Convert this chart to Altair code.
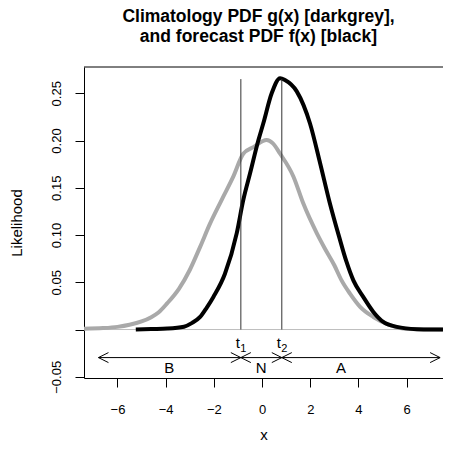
import altair as alt
import pandas as pd

# ---- data ----
gray_x = [-7.39, -6.6, -6.0, -5.5, -5.0, -4.6, -4.3, -3.94, -3.45, -3.0, -2.57, -2.16, -1.68,
          -1.19, -0.78, -0.36, 0.19, 0.45, 0.75, 1.30, 1.71, 2.27, 2.6, 3.0, 3.3, 3.65, 4.07,
          4.62, 5.31, 5.85, 6.5, 7.5]
gray_y = [0.0008, 0.0015, 0.0028, 0.0050, 0.0085, 0.013, 0.018, 0.0276, 0.043, 0.063, 0.0875,
          0.112, 0.137, 0.162, 0.186, 0.193, 0.2005, 0.197, 0.186, 0.162, 0.1335, 0.102, 0.086,
          0.068, 0.052, 0.038, 0.024, 0.0133, 0.0046, 0.001, 0.0002, 0.0]

black_x = [-5.24, -4.6, -3.93, -3.24, -2.9, -2.57, -2.3, -2.02, -1.54, -1.05, -0.78, -0.5,
           -0.15, 0.05, 0.40, 0.75, 0.95, 1.44, 1.99, 2.41, 2.8, 3.2, 3.5, 3.79, 4.20, 4.62,
           5.03, 5.59, 6.42, 7.0, 7.6]
black_y = [0.0, 0.0005, 0.001, 0.003, 0.007, 0.0133, 0.023, 0.0345, 0.059, 0.102, 0.137, 0.165,
           0.2005, 0.218, 0.25, 0.266, 0.264, 0.252, 0.218, 0.176, 0.135, 0.098, 0.072, 0.052,
           0.0345, 0.0186, 0.008, 0.0028, 0.0003, 0.0, 0.0]

thresholds = [-0.88, 0.82]
threshold_sub = ["1", "2"]
threshold_top = 0.265
arrow_left = -6.79
arrow_right = 7.39
arrow_y = -0.0297
region_labels = ["B", "N", "A"]
region_x = [-3.85, -0.04, 3.28]
region_y = -0.0463
tlabel_y = -0.0198

x_ticks = [-6, -4, -2, 0, 2, 4, 6]
y_ticks = [-0.05, 0.0, 0.05, 0.10, 0.15, 0.20, 0.25]

X_DOMAIN = [-7.39, 7.51]
Y_DOMAIN = [-0.0513, 0.2778]
FONT = "Liberation Sans"

xs = alt.Scale(domain=X_DOMAIN, nice=False, zero=False)
ys = alt.Scale(domain=Y_DOMAIN, nice=False, zero=False)

X = alt.X("x:Q", scale=xs, axis=alt.Axis(values=x_ticks, title="x", format="d",
                                          labelPadding=16, titlePadding=11))
Y = alt.Y("y:Q", scale=ys, axis=alt.Axis(values=y_ticks, title="Likelihood", labelAngle=270,
                                          labelExpr="datum.value == 0 ? '' : format(datum.value, '.2f')",
                                          labelPadding=12, titlePadding=26))

gray_df = pd.DataFrame({"x": gray_x, "y": gray_y})
black_df = pd.DataFrame({"x": black_x, "y": black_y})
thr_df = pd.DataFrame({"x": thresholds, "y": [0.0] * 2, "y2": [threshold_top] * 2,
                       "sub": threshold_sub, "ty": [tlabel_y] * 2})
arrow_df = pd.DataFrame({"x": [arrow_left], "x2": [arrow_right], "y": [arrow_y]})
left_heads = pd.DataFrame({"x": [arrow_left] + thresholds, "y": [arrow_y] * 3})
right_heads = pd.DataFrame({"x": thresholds + [arrow_right], "y": [arrow_y] * 3})
reg_df = pd.DataFrame({"x": region_x, "y": [region_y] * 3, "label": region_labels})
zero_df = pd.DataFrame({"y": [0.0]})

zero_line = alt.Chart(zero_df).mark_rule(color="#bebebe", strokeWidth=1).encode(y=Y)

gray_line = alt.Chart(gray_df).mark_line(color="#a9a9a9", strokeWidth=4, clip=True,
                                         interpolate="monotone").encode(x=X, y=Y)
black_line = alt.Chart(black_df).mark_line(color="black", strokeWidth=4, clip=True,
                                           interpolate="monotone").encode(x=X, y=Y)

vlines = alt.Chart(thr_df).mark_rule(color="#333333", strokeWidth=1).encode(
    x=X, y=Y, y2="y2:Q")

arrow_line = alt.Chart(arrow_df).mark_rule(color="black", strokeWidth=1).encode(
    x=X, x2="x2:Q", y=Y)

lh = alt.Chart(left_heads).mark_point(shape="M 1 -0.5 L 0 0 L 1 0.5", filled=False, size=400,
                                      strokeWidth=1, color="black", opacity=1).encode(x=X, y=Y)
rh = alt.Chart(right_heads).mark_point(shape="M -1 -0.5 L 0 0 L -1 0.5", filled=False, size=400,
                                       strokeWidth=1, color="black", opacity=1).encode(x=X, y=Y)

reg_text = alt.Chart(reg_df).mark_text(font=FONT, fontSize=15, color="black",
                                       baseline="alphabetic", align="center").encode(
    x=X, y=Y, text="label:N")

t_text = alt.Chart(thr_df).mark_text(font=FONT, fontSize=15, color="black", baseline="alphabetic",
                                     align="right", dx=-1).encode(
    x=X, y=alt.Y("ty:Q", scale=ys), text=alt.value("t"))
t_sub = alt.Chart(thr_df).mark_text(font=FONT, fontSize=11, color="black", baseline="alphabetic",
                                    align="left", dx=-0.5, dy=4).encode(
    x=X, y=alt.Y("ty:Q", scale=ys), text="sub:N")

top_border = alt.Chart(zero_df).mark_rule(color="black", strokeWidth=1).encode(
    x=alt.value(0), x2=alt.value(359), y=alt.value(0))

chart = alt.layer(zero_line, gray_line, black_line, vlines, arrow_line, lh, rh, reg_text,
                  t_text, t_sub, top_border).properties(
    width=359, height=311,
    background="white",
    autosize=alt.AutoSizeParams(type="none"),
    padding={"left": 76, "top": 59, "right": 0, "bottom": 66},
    title=alt.Title(["Climatology PDF g(x) [darkgrey],", "and forecast PDF f(x) [black]"],
                    font=FONT, fontSize=17.5, fontWeight="bold", color="black",
                    lineHeight=20, offset=21, dx=-5, anchor="middle"),
).configure_view(stroke=None).configure_axis(
    grid=False, domainColor="black", tickColor="black", labelColor="black", titleColor="black",
    labelFont=FONT, titleFont=FONT, labelFontSize=13, titleFontSize=15, titleFontWeight="normal",
    tickSize=9, domainWidth=1, tickWidth=1,
)

chart.save("out.html", embed_options={"renderer": "svg", "actions": False})
